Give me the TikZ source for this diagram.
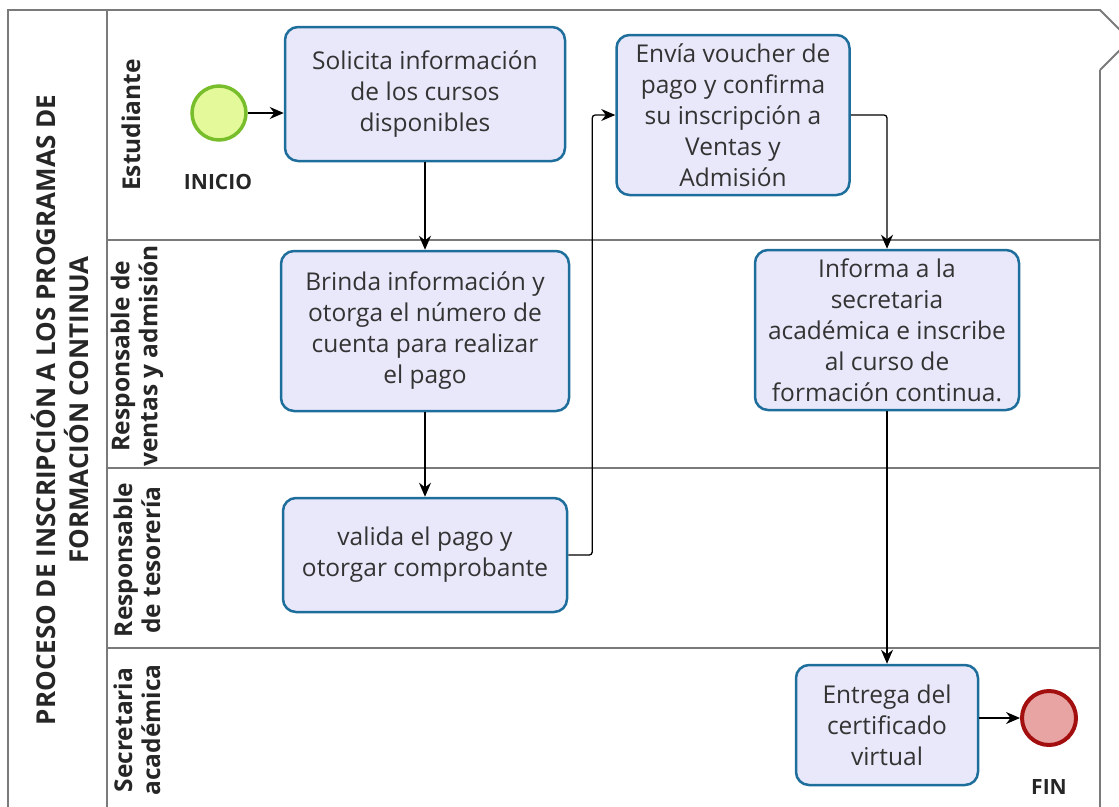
\documentclass[tikz,border=0pt]{standalone}
\usepackage{fontspec}
\setmainfont{Open Sans}
\usepackage{tikz}
\usetikzlibrary{arrows.meta}
\definecolor{taskfill}{HTML}{E8E8FA}
\definecolor{taskline}{HTML}{1E6E9C}
\definecolor{startfill}{HTML}{E3F99A}
\definecolor{startline}{HTML}{78BE2A}
\definecolor{endfill}{HTML}{E8A3A3}
\definecolor{endline}{HTML}{A30F0F}
\definecolor{poolline}{HTML}{7A7A7A}
\tikzset{
    task/.style={draw=taskline, fill=taskfill, line width=2.5pt, rounded corners=13pt,
        align=center, text=black!80, font=\fontsize{24.5}{31}\selectfont, inner sep=0pt},
    startev/.style={circle, draw=startline, fill=startfill, line width=3.5pt, minimum size=54pt, inner sep=0pt},
    endev/.style={circle, draw=endline, fill=endfill, line width=4pt, minimum size=54pt, inner sep=0pt},
    evlabel/.style={font=\bfseries\fontsize{21}{24}\selectfont, text=black!85},
    lanelabel/.style={rotate=90, align=center, font=\bfseries\fontsize{24.5}{28}\selectfont, text=black!85},
    flow/.style={-{Stealth[length=14pt,width=12pt]}, line width=1.3pt, black},
}

\begin{document}
\begin{tikzpicture}[x=1pt,y=-1pt]
    \useasboundingbox (0,0) rectangle (1119,806);
    \clip (0,0) rectangle (1119,806);
    % pool and lanes
    \draw[poolline, line width=1.8pt] (1100,70) -- (1130,40) -- (1100,10) -- (8,10) -- (8,820);
    \draw[poolline, line width=1.8pt] (1100,70) -- (1100,820);
    \draw[poolline, line width=1.2pt] (107,10) -- (107,820);
    \draw[poolline, line width=1.2pt] (107,240) -- (1100,240);
    \draw[poolline, line width=1.2pt] (107,468) -- (1100,468);
    \draw[poolline, line width=1.2pt] (107,648) -- (1100,648);
    \node[lanelabel, font=\bfseries\fontsize{26}{33}\selectfont] (pool) at (60,410)
        {PROCESO DE INSCRIPCIÓN A LOS PROGRAMAS DE\\FORMACIÓN CONTINUA};
    \node[lanelabel] (estudiante) at (131,125) {Estudiante};
    \node[lanelabel] (ventas) at (137,356) {Responsable de\\ventas y admisión};
    \node[lanelabel] (tesoreria) at (137,560) {Responsable\\de tesorería};
    \node[lanelabel] (secretaria) at (137,730) {Secretaria\\académica};

    % events and tasks
    \node[startev] (inicio) at (219,113) {};
    \node[evlabel] (inicioL) at (218,182) {INICIO};
    \node[task, minimum width=280pt, minimum height=134pt] (solicita) at (425,94)
        {Solicita información\\de los cursos\\disponibles};
    \node[task, minimum width=233pt, minimum height=160pt] (envia) at (733,115)
        {Envía voucher de\\pago y confirma\\su inscripción a\\Ventas y\\Admisión};
    \node[task, minimum width=288pt, minimum height=160pt] (brinda) at (425,331)
        {Brinda información y\\otorga el número de\\cuenta para realizar\\el pago};
    \node[task, minimum width=264pt, minimum height=160pt] (informa) at (887,330)
        {Informa a la\\secretaria\\académica e inscribe\\al curso de\\formación continua.};
    \node[task, minimum width=284pt, minimum height=114pt] (valida) at (425,555)
        {valida el pago y\\otorgar comprobante};
    \node[task, minimum width=182pt, minimum height=120pt] (entrega) at (887,725)
        {Entrega del\\certificado\\virtual};
    \node[endev] (fin) at (1049,718) {};
    \node[evlabel] (finL) at (1049,787) {FIN};

    % sequence flows
    \draw[flow] (inicio) -- (inicio -| solicita.west);
    \draw[flow] (solicita) -- (brinda);
    \draw[flow] (brinda) -- (valida);
    \draw[flow, rounded corners=3pt] (valida.east) -- ++(24,0) |- (envia.west);
    \draw[flow, rounded corners=3pt] (envia.east) -| (informa.north);
    \draw[flow] (informa) -- (entrega);
    \draw[flow] (entrega.east |- fin) -- (fin);
\end{tikzpicture}
\end{document}
